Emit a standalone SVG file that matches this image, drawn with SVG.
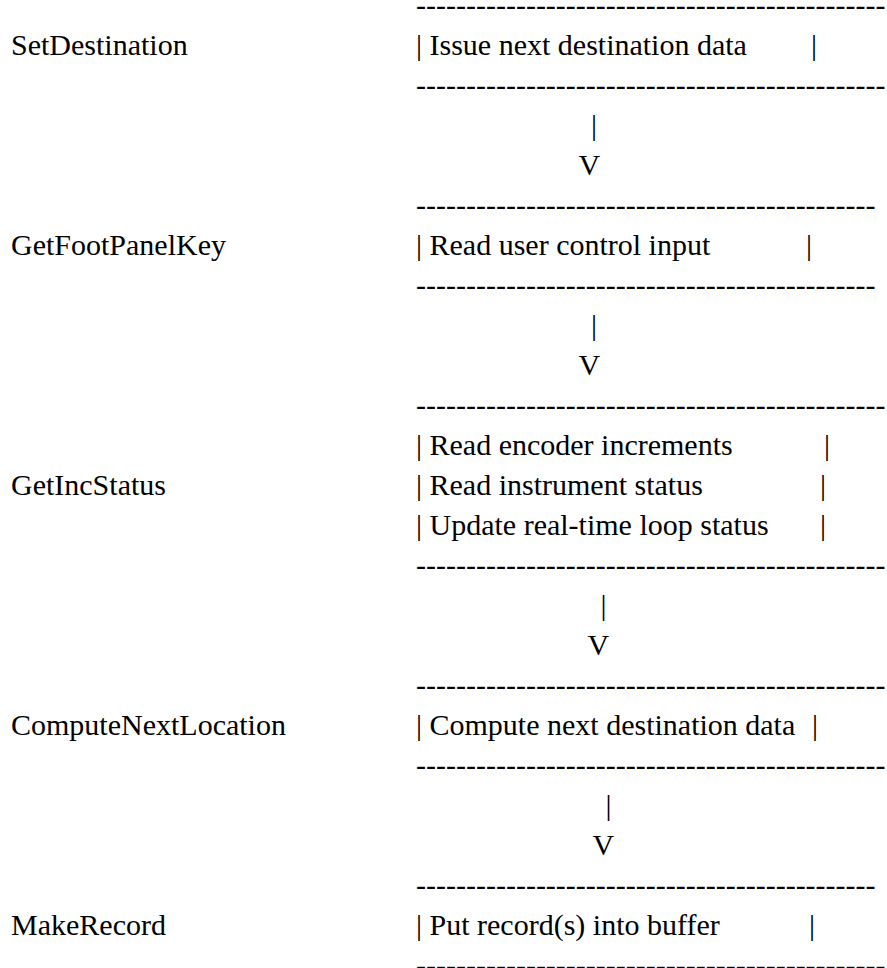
<svg xmlns="http://www.w3.org/2000/svg" width="887" height="968" viewBox="0 0 887 968">
  <style>
    .t { font-family: 'Liberation Serif', 'Times New Roman', Times, serif; font-size: 30px; fill: #000000; }
  </style>
  <rect x="0" y="0" width="887" height="968" fill="#ffffff"/>

  <!-- Step 1 -->
  <g id="set-destination">
    <text class="t" x="11" y="55">SetDestination</text>
    <text class="t" x="416" y="15">-----------------------------------------------</text>
    <text class="t" x="416" y="55">| Issue next destination data<tspan x="811">|</tspan></text>
    <text class="t" x="416" y="95">-----------------------------------------------</text>
  </g>

  <!-- Step 2 -->
  <g id="get-foot-panel-key">
    <text class="t" x="11" y="255">GetFootPanelKey</text>
    <text class="t" x="416" y="215">----------------------------------------------</text>
    <text class="t" x="416" y="255">| Read user control input<tspan x="806">|</tspan></text>
    <text class="t" x="416" y="295">----------------------------------------------</text>
  </g>

  <!-- Step 3 -->
  <g id="get-inc-status">
    <text class="t" x="11" y="495">GetIncStatus</text>
    <text class="t" x="416" y="415">-----------------------------------------------</text>
    <text class="t" x="416" y="455">| Read encoder increments<tspan x="824">|</tspan></text>
    <text class="t" x="416" y="495">| Read instrument status<tspan x="820">|</tspan></text>
    <text class="t" x="416" y="535">| Update real-time loop status<tspan x="820">|</tspan></text>
    <text class="t" x="416" y="575">-----------------------------------------------</text>
  </g>

  <!-- Step 4 -->
  <g id="compute-next-location">
    <text class="t" x="11" y="735">ComputeNextLocation</text>
    <text class="t" x="416" y="695">-----------------------------------------------</text>
    <text class="t" x="416" y="735">| Compute next destination data<tspan x="812">|</tspan></text>
    <text class="t" x="416" y="775">-----------------------------------------------</text>
  </g>

  <!-- Step 5 -->
  <g id="make-record">
    <text class="t" x="11" y="935">MakeRecord</text>
    <text class="t" x="416" y="895">----------------------------------------------</text>
    <text class="t" x="416" y="935">| Put record(s) into buffer<tspan x="809">|</tspan></text>
    <text class="t" x="416" y="975">-----------------------------------------------</text>
  </g>

  <!-- Flow arrows between steps -->
  <g id="connectors">
    <text class="t" x="591" y="135">|</text>
    <text class="t" x="578.5" y="175">V</text>
    <text class="t" x="591" y="335">|</text>
    <text class="t" x="578.5" y="375">V</text>
    <text class="t" x="600.5" y="615">|</text>
    <text class="t" x="587.5" y="655">V</text>
    <text class="t" x="605.5" y="815">|</text>
    <text class="t" x="592.5" y="855">V</text>
  </g>
</svg>
